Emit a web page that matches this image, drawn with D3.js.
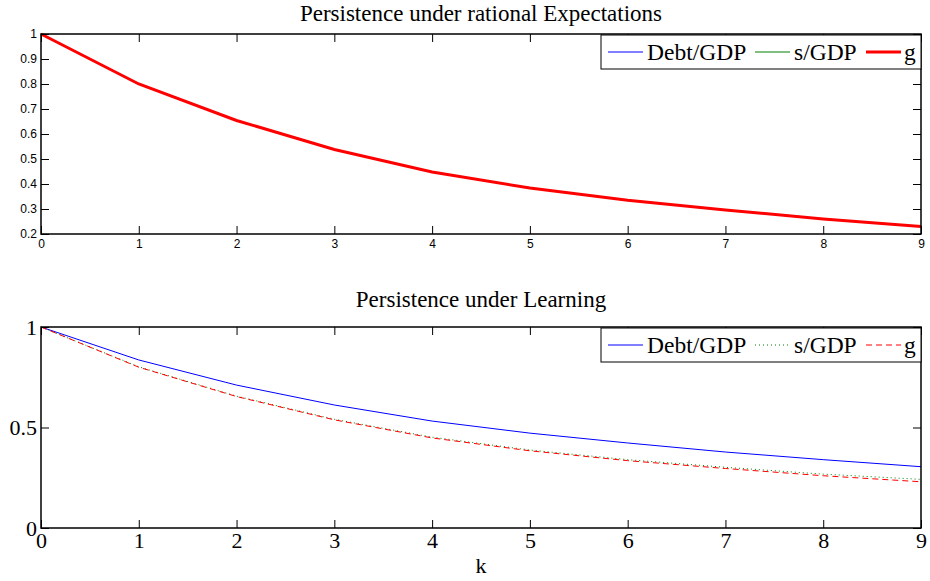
<!DOCTYPE html>
<html>
<head>
<meta charset="UTF-8">
<script src="https://d3js.org/d3.v7.min.js"></script>
<style>
  body { margin: 0; background: #fff; }
  .serif { font-family: "Liberation Serif", "Times New Roman", serif; }
</style>
</head>
<body>
<div id="chart"></div>
<script>

// data
var k = [0, 1, 2, 3, 4, 5, 6, 7, 8, 9];
var seriesNames = ["Debt/GDP", "s/GDP", "g"];

// rational expectations: all three overlap under the thick red line
var reDebt = [1, 0.800, 0.654, 0.538, 0.448, 0.384, 0.335, 0.296, 0.260, 0.230];
var reS    = [1, 0.800, 0.654, 0.538, 0.448, 0.384, 0.335, 0.296, 0.260, 0.230];
var reG    = [1, 0.800, 0.654, 0.538, 0.448, 0.384, 0.335, 0.296, 0.260, 0.230];

// learning
var lDebt = [1, 0.836, 0.711, 0.612, 0.532, 0.472, 0.423, 0.378, 0.340, 0.305];
var lS    = [1, 0.802, 0.656, 0.541, 0.452, 0.388, 0.340, 0.302, 0.268, 0.242];
var lG    = [1, 0.800, 0.654, 0.538, 0.448, 0.384, 0.335, 0.296, 0.260, 0.230];

var topYTicks = [0.2, 0.3, 0.4, 0.5, 0.6, 0.7, 0.8, 0.9, 1];
var botYTicks = [0, 0.5, 1];

var W = 930, H = 581;
var svg = d3.select("#chart").append("svg")
  .attr("width", W).attr("height", H);

var left = 41, right = 921;

function panel(opt) {
  var g = svg.append("g").attr("transform", "translate(" + left + "," + opt.top + ")");
  var w = right - left, h = opt.height;

  var x = d3.scaleLinear().domain([0, 9]).range([0, w]);
  var y = d3.scaleLinear().domain(opt.ydomain).range([h, 0]);

  // lines
  var line = d3.line()
    .x(function (d, i) { return x(k[i]); })
    .y(function (d) { return y(d); });

  opt.series.forEach(function (s) {
    g.append("path")
      .datum(s.values)
      .attr("fill", "none")
      .attr("stroke", s.color)
      .attr("stroke-width", s.width)
      .attr("stroke-dasharray", s.dash || null)
      .attr("d", line);
  });

  // box + inward ticks on all sides
  var bottom = g.append("g").attr("transform", "translate(0," + h + ")")
    .call(d3.axisBottom(x).tickValues(k).tickSizeInner(-8).tickSizeOuter(0).tickPadding(opt.xpad));
  var leftAx = g.append("g")
    .call(d3.axisLeft(y).tickValues(opt.yticks).tickSizeInner(-8).tickSizeOuter(0).tickPadding(opt.ypad)
      .tickFormat(d3.format("")));
  g.append("g")
    .call(d3.axisTop(x).tickValues(k).tickSizeInner(-8).tickSizeOuter(0).tickFormat(""));
  g.append("g").attr("transform", "translate(" + w + ",0)")
    .call(d3.axisRight(y).tickValues(opt.yticks).tickSizeInner(-8).tickSizeOuter(0).tickFormat(""));

  g.selectAll(".domain").remove();
  g.selectAll(".tick line").attr("stroke", "#000").attr("stroke-width", 1);
  g.append("rect")
    .attr("width", w).attr("height", h)
    .attr("fill", "none").attr("stroke", "#000").attr("stroke-width", 1.5);

  [bottom, leftAx].forEach(function (a) {
    a.selectAll("text")
      .attr("fill", "#000")
      .style("font-family", opt.tickFont)
      .style("font-size", opt.tickSize + "px");
  });

  // title
  svg.append("text")
    .attr("class", "serif")
    .attr("x", left + w / 2).attr("y", opt.titleY)
    .attr("text-anchor", "middle")
    .style("font-size", "23px")
    .text(opt.title);

  // legend
  var lg = g.append("g").attr("transform", "translate(" + (w - 320) + ",1)");
  lg.append("rect").attr("width", 320).attr("height", 34)
    .attr("fill", "#fff").attr("stroke", "#000").attr("stroke-width", 1);
  var xs = [7, 154, 265];
  var tx = [46, 193, 303];
  opt.series.forEach(function (s, i) {
    lg.append("line")
      .attr("x1", xs[i]).attr("x2", xs[i] + 35)
      .attr("y1", 17).attr("y2", 17)
      .attr("stroke", s.color)
      .attr("stroke-width", s.width)
      .attr("stroke-dasharray", s.dash || null);
    lg.append("text")
      .attr("class", "serif")
      .attr("x", tx[i]).attr("y", 25)
      .style("font-size", "23.5px")
      .text(seriesNames[i]);
  });

  return { x: x, y: y, h: h };
}

panel({
  top: 34, height: 200, titleY: 21,
  ydomain: [0.2, 1], yticks: topYTicks,
  title: "Persistence under rational Expectations",
  tickFont: "'Liberation Sans', Arial, sans-serif", tickSize: 12,
  xpad: 5, ypad: 4,
  series: [
    { values: reDebt, color: "#0000ff", width: 1 },
    { values: reS, color: "#008000", width: 1 },
    { values: reG, color: "#ff0000", width: 3 }
  ]
});

panel({
  top: 327, height: 201, titleY: 307,
  ydomain: [0, 1], yticks: botYTicks,
  title: "Persistence under Learning",
  tickFont: "'Liberation Serif', 'Times New Roman', serif", tickSize: 22,
  xpad: 4, ypad: 4,
  series: [
    { values: lDebt, color: "#0000ff", width: 1 },
    { values: lS, color: "#008000", width: 1, dash: "1,3" },
    { values: lG, color: "#ff0000", width: 1, dash: "6,4" }
  ]
});

svg.append("text")
  .attr("class", "serif")
  .attr("x", (left + right) / 2).attr("y", 573)
  .attr("text-anchor", "middle")
  .style("font-size", "22px")
  .text("k");

</script>
</body>
</html>
